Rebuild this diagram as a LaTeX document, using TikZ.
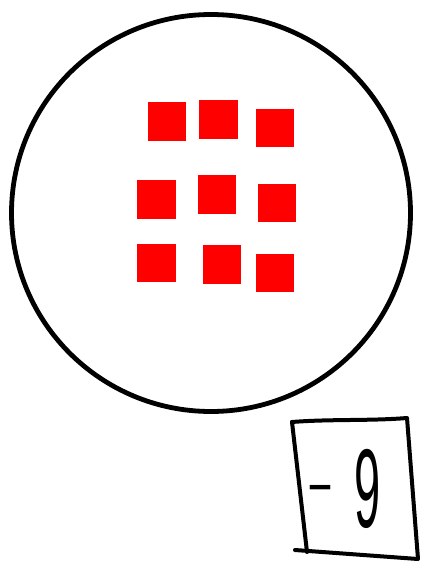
\documentclass[tikz,border=0pt]{standalone}
\usepackage{fontspec}
\setmainfont{Liberation Sans}
\begin{document}
\begin{tikzpicture}[x=1pt,y=-1pt,
  outline/.style={line width=4.8pt},
  cardline/.style={line width=4pt,line cap=round,line join=round},
  chip/.style={fill=red,draw=none,minimum size=38.5pt,inner sep=0pt,outer sep=0pt}]
\useasboundingbox (0,0) rectangle (422,562);
% big circle
\draw[outline] (211,213) ellipse [x radius=199.5, y radius=198.5];
% red squares
\node[chip] (s1) at (167,121.5) {};
\node[chip] (s2) at (218.5,119.5) {};
\node[chip] (s3) at (275,128) {};
\node[chip] (s4) at (156.5,199.5) {};
\node[chip] (s5) at (217,194.5) {};
\node[chip] (s6) at (277,203) {};
\node[chip] (s7) at (156.5,263) {};
\node[chip] (s8) at (222,264.5) {};
\node[chip] (s9) at (275,273) {};
% card
\coordinate (tl) at (292,422);
\coordinate (tr) at (407,418);
\coordinate (br) at (418,559);
\coordinate (bl) at (307,552);
\coordinate (bx) at (295,550);
\draw[cardline] (tl) .. controls (330,419) and (370,421) .. (tr) -- (br) -- (bx);
\draw[cardline] (tl) -- (bl);
\node[anchor=base west,inner sep=0pt,font=\fontsize{112}{112}\selectfont] (lbl) at (306,527)
  {\raisebox{25pt}{\scalebox{0.75}[0.5]{-}}\hspace{20pt}\scalebox{0.42}[1]{9}};
\end{tikzpicture}
\end{document}
